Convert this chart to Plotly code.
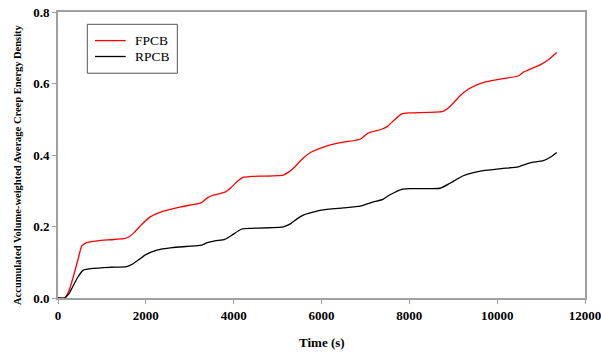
import plotly.graph_objects as go

fpcb_t = [0, 150, 250, 350, 450, 540, 650, 900, 1200, 1500, 1600, 1750, 1900, 2100, 2400, 2800, 3270, 3400, 3500, 3800, 3950, 4100, 4220, 4400, 5130, 5250, 5360, 5580, 5780, 6000, 6200, 6500, 6880, 7060, 7370, 7500, 7650, 7825, 8000, 8740, 8850, 8960, 9150, 9340, 9550, 9760, 10100, 10480, 10600, 10710, 10980, 11150, 11355]
fpcb_v = [0, 0, 0.02, 0.06, 0.105, 0.145, 0.155, 0.160, 0.163, 0.166, 0.170, 0.185, 0.205, 0.227, 0.243, 0.255, 0.267, 0.280, 0.286, 0.296, 0.310, 0.328, 0.338, 0.340, 0.344, 0.352, 0.363, 0.391, 0.409, 0.420, 0.428, 0.436, 0.444, 0.461, 0.472, 0.480, 0.497, 0.515, 0.518, 0.521, 0.528, 0.540, 0.565, 0.584, 0.597, 0.605, 0.613, 0.621, 0.632, 0.638, 0.652, 0.665, 0.687]

rpcb_t = [0, 150, 250, 350, 450, 576, 800, 1200, 1560, 1700, 1850, 1980, 2250, 2600, 3270, 3400, 3575, 3800, 3950, 4183, 4400, 5130, 5300, 5450, 5585, 6000, 6500, 6880, 7180, 7400, 7550, 7825, 8000, 8700, 8925, 9230, 9680, 10100, 10480, 10750, 11050, 11200, 11355]
rpcb_v = [0, 0, 0.012, 0.035, 0.058, 0.078, 0.083, 0.086, 0.088, 0.095, 0.108, 0.120, 0.134, 0.141, 0.148, 0.155, 0.160, 0.164, 0.175, 0.193, 0.195, 0.199, 0.208, 0.222, 0.232, 0.246, 0.252, 0.257, 0.269, 0.276, 0.288, 0.304, 0.306, 0.307, 0.321, 0.342, 0.356, 0.362, 0.367, 0.378, 0.384, 0.393, 0.407]

series_names = ["FPCB", "RPCB"]
series_colors = ["#ff0000", "#000000"]

x_ticks = [0, 2000, 4000, 6000, 8000, 10000, 12000]
y_ticks = [0.0, 0.2, 0.4, 0.6, 0.8]

x_title = "Time (s)"
y_title = "Accumulated Volume-weighted Average Creep Energy Density"

font = "'Liberation Serif', 'Times New Roman', serif"

fig = go.Figure()
for name, color, t, v in zip(series_names, series_colors, [fpcb_t, rpcb_t], [fpcb_v, rpcb_v]):
    fig.add_trace(go.Scatter(x=t, y=v, mode="lines", name=name, showlegend=False,
                             line=dict(color=color, width=1.3, shape="spline", smoothing=0.5)))

axis_common = dict(showline=True, linecolor="#a0a0a0", linewidth=2, mirror=True,
                   ticks="outside", ticklen=4, tickcolor="#a0a0a0", tickwidth=1,
                   showgrid=False, zeroline=False, ticklabeloverflow="allow", automargin=False,
                   tickfont=dict(family=font, size=13, color="black", weight="bold"))

# Legend drawn as a framed key in the upper-left of the plot area (paper coords)
shapes = [dict(type="rect", xref="paper", yref="paper", x0=0.0556, x1=0.2264, y0=0.786, y1=0.957,
               line=dict(color="#555555", width=1), fillcolor="white", layer="above")]
annotations = []
legend_rows = [0.9, 0.8444]
for name, color, yy in zip(series_names, series_colors, legend_rows):
    shapes.append(dict(type="line", xref="paper", yref="paper", x0=0.0702, x1=0.1285, y0=yy, y1=yy,
                       line=dict(color=color, width=1.3), layer="above"))
    annotations.append(dict(xref="paper", yref="paper", x=0.1429, y=yy, xanchor="left", yanchor="middle",
                            text=name, showarrow=False,
                            font=dict(family=font, size=13.5, color="black")))

annotations.append(dict(xref="paper", yref="paper", x=-0.0778, y=0.4685, xanchor="center", yanchor="middle",
                        text=y_title, textangle=-90, showarrow=False,
                        font=dict(family=font, size=10.5, color="black", weight="bold")))
annotations.append(dict(xref="paper", yref="paper", x=0.5, y=-0.157, xanchor="center", yanchor="middle",
                        text=x_title, showarrow=False,
                        font=dict(family=font, size=13, color="black", weight="bold")))

fig.update_layout(
    width=601, height=352,
    margin=dict(l=58, r=16, t=12, b=54, autoexpand=False),
    paper_bgcolor="white", plot_bgcolor="white",
    font=dict(family=font, color="black"),
    showlegend=False,
    shapes=shapes,
    annotations=annotations,
    xaxis=dict(range=[0, 12000], tickvals=x_ticks, tickformat="d", **axis_common),
    yaxis=dict(range=[0, 0.8], tickvals=y_ticks, tickformat=".1f", **axis_common),
)

fig.write_html("out.html")
